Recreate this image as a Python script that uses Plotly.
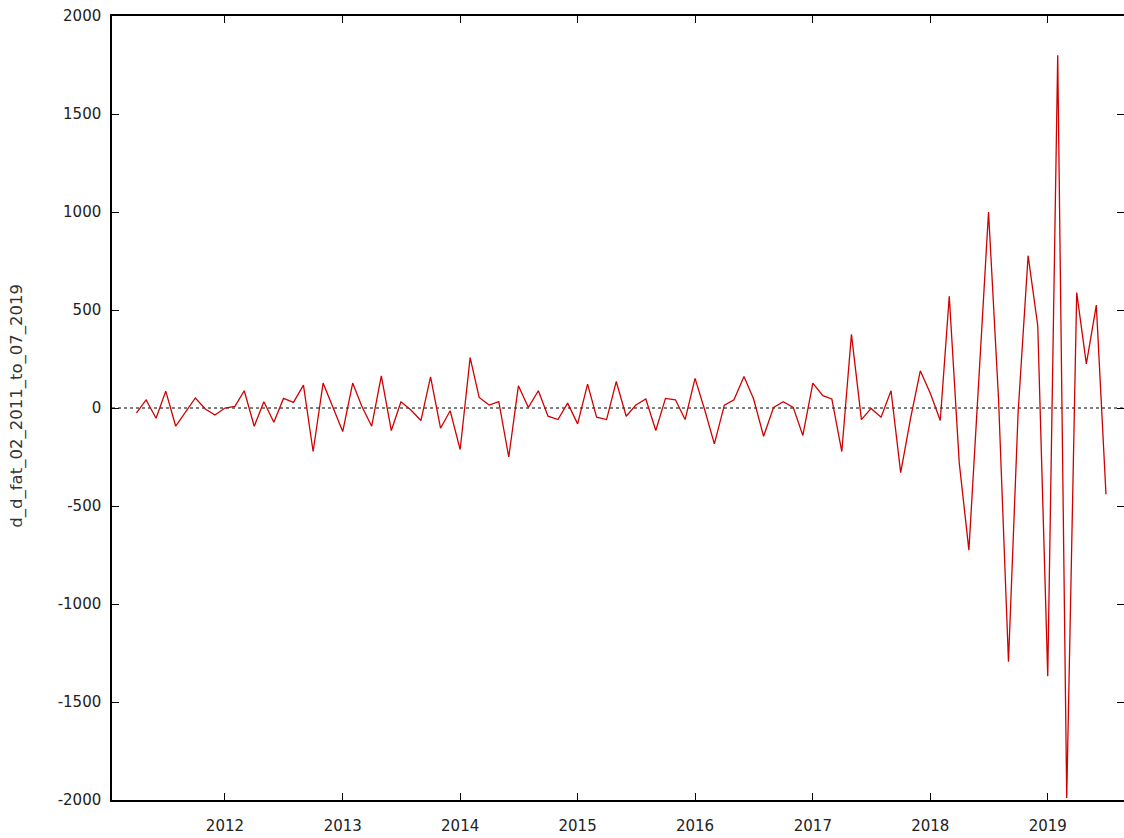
import pandas as pd
import plotly.graph_objects as go

# ---- data (monthly, 2011-04 .. 2019-07) ----
start_month = "2011-04-01"
values = [
    -25, 41, -52, 86, -93, -20, 51, -5, -36, 0,
    8, 88, -93, 32, -73, 49, 29, 117, -222, 127,
    5, -120, 127, 10, -93, 164, -115, 32, -10, -64,
    159, -103, -14, -212, 257, 54, 15, 32, -250, 113,
    3, 88, -42, -59, 25, -81, 122, -47, -59, 135,
    -42, 15, 46, -115, 49, 42, -59, 151, -15, -183,
    15, 42, 161, 46, -144, 3, 32, 3, -140, 127,
    63, 46, -222, 376, -59, -2, -47, 88, -330, -50,
    190, 75, -64, 570, -280, -725, 150, 1000, 50, -1295,
    -20, 777, 420, -1368, 1800, -1990, 589, 225, 525, -440,
]
y_title = "d_d_fat_02_2011_to_07_2019"
y_ticks = [-2000, -1500, -1000, -500, 0, 500, 1000, 1500, 2000]
y_tick_text = ["-2000", "-1500", "-1000", "-500", "0", "500", "1000", "1500", "2000"]

dates = pd.date_range(start_month, periods=len(values), freq="MS")

fig = go.Figure()
fig.add_trace(go.Scatter(
    x=dates, y=values, mode="lines",
    line=dict(color="#d00000", width=1.3),
    hoverinfo="x+y", showlegend=False,
))
# invisible trace to drive the right-hand tick axis
fig.add_trace(go.Scatter(x=[dates[0]], y=[0], yaxis="y2", mode="markers",
                         marker=dict(opacity=0), hoverinfo="skip", showlegend=False))

# dotted zero line
fig.add_shape(type="line", xref="paper", x0=0, x1=1, yref="y", y0=0, y1=0,
              line=dict(color="#000000", width=1, dash="dot"), layer="below")

x_lo = dates[0] - pd.Timedelta(days=76)
x_hi = dates[-1] + pd.Timedelta(days=56)

tick_font = dict(family="DejaVu Sans", size=15, color="#222222")

fig.update_layout(
    width=1124, height=838,
    margin=dict(l=112, r=0, t=16, b=38),
    paper_bgcolor="white", plot_bgcolor="white",
    font=dict(family="DejaVu Sans", size=15, color="#222222"),
    xaxis=dict(
        type="date", range=[x_lo, x_hi],
        tick0="2012-01-01", dtick="M12", tickformat="%Y",
        ticks="inside", ticklen=7, tickcolor="#000000", tickwidth=1,
        showline=True, linecolor="#000000", linewidth=1.5, mirror="ticks",
        showgrid=False, zeroline=False,
        tickfont=tick_font, ticklabelstandoff=11,
    ),
    yaxis=dict(
        range=[-2000, 2000], tickvals=y_ticks, ticktext=y_tick_text,
        ticks="inside", ticklen=7, tickcolor="#000000", tickwidth=1,
        showline=True, linecolor="#000000", linewidth=1.5, mirror=False,
        showgrid=False, zeroline=False,
        tickfont=tick_font, ticklabelstandoff=6,
    ),
    yaxis2=dict(
        overlaying="y", side="right", range=[-2000, 2000], tickvals=y_ticks,
        ticks="inside", ticklen=7, tickcolor="#000000", tickwidth=1,
        showline=False, showticklabels=False, showgrid=False, zeroline=False,
    ),
    annotations=[dict(
        text=y_title, textangle=-90, showarrow=False,
        xref="paper", yref="paper", x=(17 - 112) / 1012, y=0.503,
        xanchor="center", yanchor="middle",
        font=dict(family="DejaVu Sans", size=16.5, color="#333333"),
    )],
)

fig.write_html("out.html")
